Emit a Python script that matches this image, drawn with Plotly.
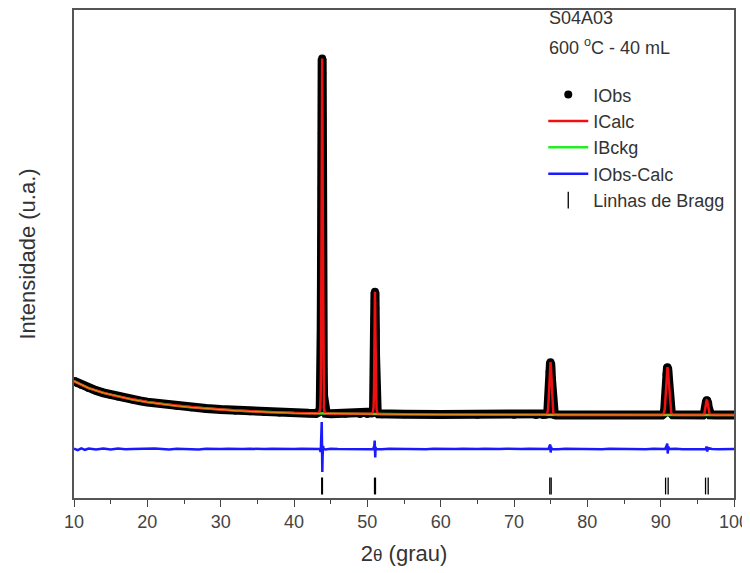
import plotly.graph_objects as go

# ---------------- data ----------------
# observed / calculated pattern, 2theta (deg) and intensity (a.u.)
obs_x = [10.0, 10.5, 11.0, 12.0, 13.0, 14.0, 15.0, 16.0, 17.0, 18.0, 19.0, 20.0,
         22.0, 24.0, 26.0, 28.0, 30.0, 32.0, 34.0, 36.0, 38.0, 40.0, 42.0, 43.0,
         43.40, 43.50, 43.58, 43.64, 43.68, 43.71, 43.74, 43.76, 43.78, 43.80, 43.82,
         43.84, 43.86, 43.88, 43.90, 43.92, 43.94, 43.96, 43.99, 44.03, 44.08, 44.15,
         44.25, 44.40,
         45.0, 47.0, 49.0, 50.0,
         50.60, 50.75, 50.85, 50.91, 50.95, 50.98, 51.00, 51.02, 51.04, 51.06, 51.08,
         51.10, 51.12, 51.15, 51.19, 51.25, 51.35, 51.50,
         52.0, 55.0, 60.0, 65.0, 70.0, 73.0, 74.0,
         74.30, 74.50, 74.62, 74.72, 74.80, 74.86, 74.92, 74.98, 75.04, 75.10, 75.17,
         75.25, 75.35, 75.50, 75.70,
         76.0, 80.0, 85.0, 88.0, 89.5,
         90.20, 90.40, 90.55, 90.65, 90.73, 90.80, 90.87, 90.93, 91.00, 91.07, 91.14,
         91.22, 91.32, 91.45, 91.65,
         92.5, 94.5, 95.5,
         95.80, 95.95, 96.05, 96.13, 96.20, 96.27, 96.34, 96.41, 96.48, 96.56, 96.66,
         96.80,
         97.5, 100.0]
obs_y = [2340, 2300, 2265, 2200, 2150, 2105, 2065, 2030, 2000, 1970, 1945, 1920,
         1880, 1845, 1815, 1790, 1770, 1750, 1735, 1720, 1710, 1700, 1695, 1692,
         1710, 1740, 1820, 2050, 2600, 3400, 4300, 5200, 6200, 7300, 8200,
         8800, 8500, 7600, 6500, 5400, 4400, 3500, 2600, 2050, 1820, 1730,
         1705, 1695,
         1688, 1685, 1682, 1680,
         1690, 1720, 1820, 2150, 2650, 3150, 3600, 3950, 4130, 4080, 3800,
         3350, 2850, 2300, 1950, 1780, 1710, 1685,
         1678, 1675, 1670, 1667, 1665, 1663, 1662,
         1665, 1685, 1750, 1950, 2250, 2530, 2700, 2720, 2620, 2400, 2100,
         1830, 1710, 1672, 1663,
         1662, 1660, 1660, 1660, 1660,
         1663, 1685, 1770, 1980, 2250, 2480, 2610, 2620, 2530, 2380, 2200,
         1980, 1790, 1700, 1668,
         1660, 1660, 1660,
         1662, 1680, 1740, 1830, 1910, 1955, 1950, 1900, 1820, 1740, 1690,
         1665,
         1660, 1660]
calc_y = list(obs_y)

# background
bckg_x = [10, 11, 12, 14, 16, 18, 20, 22, 24, 26, 28, 30, 32, 34, 36, 38, 40,
          42, 44, 47, 50, 55, 60, 65, 70, 75, 80, 90, 100]
bckg_y = [2340, 2265, 2200, 2105, 2030, 1970, 1920, 1880, 1845, 1815, 1790, 1770,
          1750, 1735, 1720, 1710, 1700, 1695, 1690, 1685, 1680, 1675, 1670, 1667,
          1665, 1662, 1660, 1660, 1660]

# difference curve IObs - ICalc
diff_x = [10, 10.5, 11, 11.5, 12, 13, 14, 15, 16, 17, 18, 19, 20, 21, 22, 23, 24,
          25, 26, 27, 28, 29, 30, 31, 32, 33, 34, 35, 36, 37, 38, 39, 40, 41, 42,
          43, 43.5, 43.65, 43.72, 43.78, 43.82, 43.86, 43.9, 43.96, 44.05, 44.3,
          45, 46, 47, 48, 49, 50, 50.8, 50.95, 51.0, 51.04, 51.08, 51.12, 51.2,
          52, 53, 54, 55, 56, 57, 58, 59, 60, 61, 62, 63, 64, 65, 66, 67, 68, 69,
          70, 71, 72, 73, 74, 74.7, 74.85, 74.95, 75.0, 75.05, 75.15,
          76, 77, 78, 79, 80, 81, 82, 83, 84, 85, 86, 87, 88, 89, 90, 90.6, 90.8,
          90.9, 90.96, 91.05, 91.15, 92, 93, 94, 95, 96, 96.15, 96.25, 96.35,
          96.45, 97, 98, 99, 100]
diff_y = [10, -20, 15, -15, 10, -10, 10, -10, 10, -5, 0, 5, -5, 10, 0, -10, 5,
          -5, 0, -10, 5, -5, 0, 5, -5, 0, 5, -5, 0, 5, 0, -5, 0, 5, 0,
          -5, 0, -60, 120, 540, 100, -460, -150, 60, 0, -10,
          5, 0, -5, 5, 0, -5, 0, 60, 170, -40, -170, 40, 0,
          -5, 5, 0, -5, 5, 0, -5, 5, 0, -5, 0, 5, -5, 0, 5, -5, 0, 5,
          -5, 0, 5, 0, -5, 0, 60, 90, -70, 40, 0,
          -5, 5, 0, -5, 5, 0, -5, 5, 0, -5, 5, 0, -5, 5, 0, 0, 60,
          110, -90, 50, 0, 5, -5, 0, 5, -5, 0, 50, -50,
          20, 0, -5, 5, 0]

# Bragg reflection positions (K-alpha1 / K-alpha2)
bragg_x = [43.78, 43.88, 50.98, 51.11, 74.88, 75.07, 90.67, 91.02, 96.12, 96.48]

x_ticks = [10, 20, 30, 40, 50, 60, 70, 80, 90, 100]
sample_name = "S04A03"
sample_cond = "600 <sup>o</sup>C - 40 mL"

# ---------------- layout constants ----------------
DIFF_OFFSET = 980
BRAGG_LEVEL = 240
Y_RANGE = [0, 9770]
FONT = "Liberation Sans, Arial, sans-serif"

fig = go.Figure()

# thick band of observed points (no legend)
fig.add_trace(go.Scatter(x=obs_x, y=obs_y, mode="lines",
                         line=dict(color="black", width=9),
                         showlegend=False, hoverinfo="skip"))
fig.add_trace(go.Scatter(x=obs_x, y=obs_y, mode="markers", name="IObs",
                         marker=dict(color="black", size=8)))
fig.add_trace(go.Scatter(x=bckg_x, y=bckg_y, mode="lines", name="IBckg",
                         line=dict(color="#22ee22", width=2.5)))
fig.add_trace(go.Scatter(x=obs_x, y=calc_y, mode="lines", name="ICalc",
                         line=dict(color="#ee1111", width=2.5)))
# orange look where calculated and background curves overlap (no legend)
fig.add_trace(go.Scatter(x=bckg_x, y=bckg_y, mode="lines",
                         line=dict(color="#dd8a1c", width=1.4),
                         showlegend=False, hoverinfo="skip"))
fig.add_trace(go.Scatter(x=diff_x, y=[v + DIFF_OFFSET for v in diff_y],
                         mode="lines", name="IObs-Calc",
                         line=dict(color="#1a1aff", width=2.5)))
fig.add_trace(go.Scatter(x=bragg_x, y=[BRAGG_LEVEL] * len(bragg_x),
                         mode="markers", name="Linhas de Bragg",
                         marker=dict(symbol="line-ns-open", size=12,
                                     color="black",
                                     line=dict(color="black", width=1.3))))

# legend order: IObs, ICalc, IBckg, IObs-Calc, Bragg
ranks = {"IObs": 0, "ICalc": 1, "IBckg": 2, "IObs-Calc": 3, "Linhas de Bragg": 4}
for tr in fig.data:
    if tr.name in ranks:
        tr.legendrank = ranks[tr.name]

# the page body adds an 8px offset; the figure is sized to compensate
fig.update_layout(
    width=742, height=565,
    margin=dict(l=66, r=16, t=1.5, b=75),
    paper_bgcolor="white", plot_bgcolor="white",
    font=dict(family=FONT, color="#333333"),
    showlegend=True,
    legend=dict(x=0.711, y=0.864, xanchor="left", yanchor="top",
                bgcolor="rgba(0,0,0,0)", borderwidth=0,
                font=dict(size=18, color="#333333", family=FONT),
                itemwidth=40, tracegroupgap=0),
    xaxis=dict(range=[10, 100], tickvals=x_ticks, ticks="outside",
               ticklen=7, tickwidth=1.3, tickcolor="#444", automargin=False,
               minor=dict(dtick=5, ticks="outside", ticklen=4, tickwidth=1.2,
                          tickcolor="#444"),
               showline=True, linecolor="#555", linewidth=1.5, mirror=True,
               showgrid=False, zeroline=False,
               tickfont=dict(size=18, color="#444444", family=FONT),
               title=dict(text="2<span style='font-size:17px'>θ</span> (grau)",
                          font=dict(size=22, color="#333333", family=FONT),
                          standoff=14)),
    yaxis=dict(range=Y_RANGE, showticklabels=False, ticks="", automargin=False,
               showline=True, linecolor="#555", linewidth=1.5, mirror=True,
               showgrid=False, zeroline=False,
               title=dict(text="Intensidade (u.a.)",
                          font=dict(size=22, color="#333333", family=FONT),
                          standoff=31)),
    annotations=[
        dict(text=sample_name, xref="paper", yref="paper", x=0.716, y=0.983,
             xanchor="left", yanchor="middle", showarrow=False,
             font=dict(size=18, color="#333333", family=FONT)),
        dict(text=sample_cond, xref="paper", yref="paper", x=0.716, y=0.925,
             xanchor="left", yanchor="middle", showarrow=False,
             font=dict(size=18, color="#333333", family=FONT)),
    ],
)

fig.write_html("out.html")
